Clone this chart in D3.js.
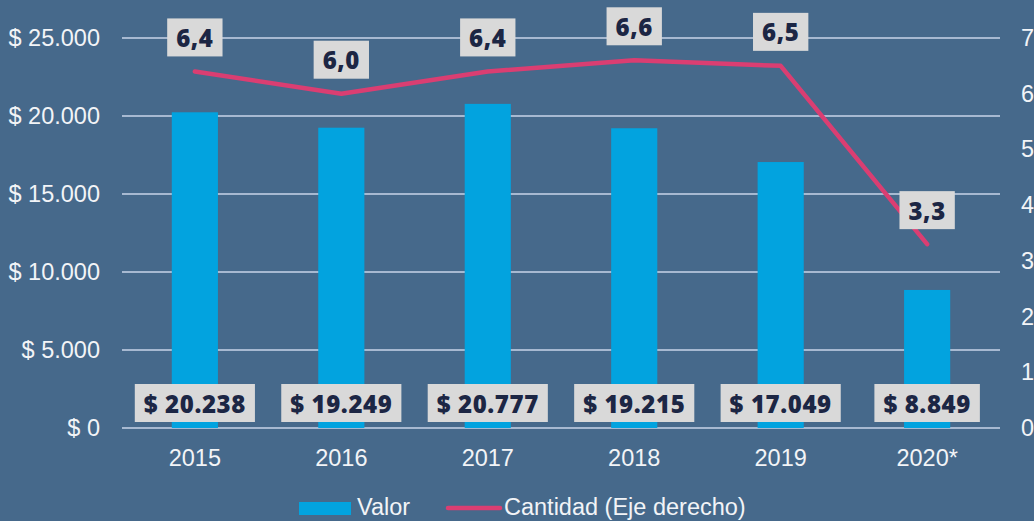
<!DOCTYPE html>
<html>
<head>
<meta charset="utf-8">
<script src="https://cdn.jsdelivr.net/npm/d3@7"></script>
<style>
  html, body { margin: 0; padding: 0; background: #46698b; }
  svg { display: block; }
</style>
</head>
<body>
<div id="chart"></div>
<script>
// Data
var years = ["2015", "2016", "2017", "2018", "2019", "2020*"];
var valor = [20238, 19249, 20777, 19215, 17049, 8849];
var cantidad = [6.4, 6.0, 6.4, 6.6, 6.5, 3.3];
var leftTicks = [0, 5000, 10000, 15000, 20000, 25000];
var rightTicks = [0, 1, 2, 3, 4, 5, 6, 7];

var svgWidth = 1034, svgHeight = 521;
var margin = { top: 38, right: 34, bottom: 93, left: 122 };
var width = svgWidth - margin.left - margin.right;
var height = svgHeight - margin.top - margin.bottom;

var tickFont = "Liberation Sans, Arial, sans-serif";
var tickSize = "23.5px";
var tickColor = "#f2f4f7";

var svg = d3.select("#chart").append("svg")
    .attr("width", svgWidth)
    .attr("height", svgHeight);

svg.append("rect").attr("width", svgWidth).attr("height", svgHeight).attr("fill", "#46698b");

var chartGroup = svg.append("g")
    .attr("transform", `translate(${margin.left}, ${margin.top})`);

var xScale = d3.scaleBand().domain(years).range([0, width]).paddingInner(0.685).paddingOuter(0.34);
var yLeft = d3.scaleLinear().domain([0, 25000]).range([height, 0]);
var yRight = d3.scaleLinear().domain([0, 7]).range([height, 0]);

var fmtMoney = function(v) {
  return "$ " + d3.format(",")(v).replace(/,/g, ".");
};

// gridlines
chartGroup.selectAll(".grid").data(leftTicks).enter().append("line")
    .attr("x1", 0).attr("x2", width)
    .attr("y1", d => yLeft(d)).attr("y2", d => yLeft(d))
    .attr("stroke", "#c9d5e8").attr("stroke-width", 1.6);

function styleAxis(g) {
  g.select(".domain").remove();
  g.selectAll("text").attr("fill", tickColor)
      .style("font-family", tickFont).style("font-size", tickSize);
}

// left axis labels
var leftAxis = d3.axisLeft(yLeft).tickValues(leftTicks).tickSize(0).tickPadding(22).tickFormat(fmtMoney);
chartGroup.append("g").call(leftAxis).call(styleAxis);

// right axis labels
var rightAxis = d3.axisRight(yRight).tickValues(rightTicks).tickSize(0).tickPadding(21).tickFormat(d3.format("d"));
chartGroup.append("g").attr("transform", `translate(${width}, 0)`).call(rightAxis).call(styleAxis);

// bottom axis labels
var bottomAxis = d3.axisBottom(xScale).tickSize(0).tickPadding(21);
chartGroup.append("g").attr("transform", `translate(0, ${height})`).call(bottomAxis).call(styleAxis);

// bars
chartGroup.selectAll(".bar").data(valor).enter().append("rect")
    .attr("x", (d, i) => xScale(years[i]))
    .attr("width", xScale.bandwidth())
    .attr("y", d => yLeft(d))
    .attr("height", d => height - yLeft(d))
    .attr("fill", "#02a3df");

// line
var line = d3.line()
    .x((d, i) => xScale(years[i]) + xScale.bandwidth() / 2)
    .y(d => yRight(d));

chartGroup.append("path").datum(cantidad)
    .attr("d", line)
    .attr("fill", "none")
    .attr("stroke", "#da3e72")
    .attr("stroke-width", 4.5)
    .attr("stroke-linecap", "round")
    .attr("stroke-linejoin", "round");

var labelFont = "'Open Sans', 'Noto Sans', sans-serif";

function addLabel(g, cx, cy, txt) {
  var t = g.append("text")
      .attr("x", cx).attr("y", cy)
      .attr("text-anchor", "middle")
      .attr("dominant-baseline", "central")
      .style("font-family", labelFont)
      .style("font-weight", 800)
      .style("font-size", "24px")
      .style("letter-spacing", "0.6px")
      .attr("fill", "#1c2644")
      .text(txt);
  var bb = t.node().getBBox();
  g.insert("rect", "text")
      .attr("x", cx - bb.width / 2 - 9)
      .attr("y", cy - 19)
      .attr("width", bb.width + 18)
      .attr("height", 38)
      .attr("fill", "#d9d9d9");
}

// value labels
valor.forEach(function(v, i) {
  var g = chartGroup.append("g");
  addLabel(g, xScale(years[i]) + xScale.bandwidth() / 2, height - 25, fmtMoney(v));
});

// quantity labels
cantidad.forEach(function(v, i) {
  var g = chartGroup.append("g");
  addLabel(g, xScale(years[i]) + xScale.bandwidth() / 2, yRight(v) - 34, v.toFixed(1).replace(".", ","));
});

// legend
var legend = svg.append("g");
legend.append("rect").attr("x", 299).attr("y", 502).attr("width", 52).attr("height", 13).attr("fill", "#02a3df");
legend.append("text").attr("x", 357).attr("y", 515).text("Valor")
    .attr("fill", tickColor).style("font-family", tickFont).style("font-size", tickSize);
legend.append("line").attr("x1", 448).attr("x2", 500).attr("y1", 508).attr("y2", 508)
    .attr("stroke", "#da3e72").attr("stroke-width", 4.5).attr("stroke-linecap", "round");
legend.append("text").attr("x", 504).attr("y", 515).text("Cantidad (Eje derecho)")
    .attr("fill", tickColor).style("font-family", tickFont).style("font-size", tickSize);
</script>
</body>
</html>
